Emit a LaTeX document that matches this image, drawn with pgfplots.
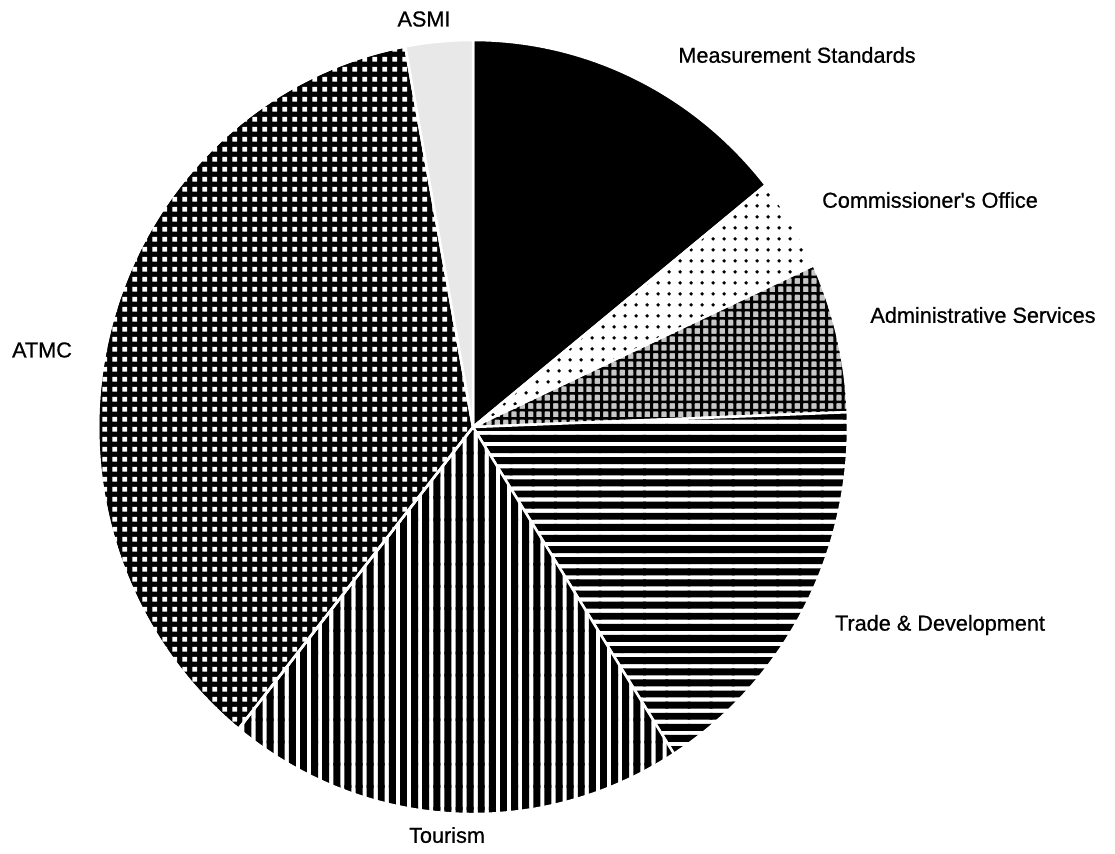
\documentclass[border=0pt]{standalone}
\usepackage{pgfplots}
\pgfplotsset{compat=1.18}
\usepackage{pgfplotstable}
\usetikzlibrary{patterns}
\usepackage{fontspec}
\setmainfont{Liberation Sans}
\newfontfamily\labelfont[FakeBold=0.7]{Liberation Sans}

\pgfdeclarepatternformonly{vthick}{\pgfqpoint{-0.5pt}{-0.5pt}}{\pgfqpoint{8.5pt}{8.5pt}}{\pgfqpoint{8pt}{8pt}}{%
  \pgfpathrectangle{\pgfqpoint{0pt}{-0.5pt}}{\pgfqpoint{2.5pt}{9pt}}%
  \pgfpathrectangle{\pgfqpoint{4pt}{-0.5pt}}{\pgfqpoint{2.5pt}{9pt}}\pgfusepath{fill}}
\pgfdeclarepatternformonly{hthick}{\pgfqpoint{-0.5pt}{-0.5pt}}{\pgfqpoint{8.5pt}{8.5pt}}{\pgfqpoint{8pt}{8pt}}{%
  \pgfpathrectangle{\pgfqpoint{-0.5pt}{0pt}}{\pgfqpoint{9pt}{2.5pt}}%
  \pgfpathrectangle{\pgfqpoint{-0.5pt}{4pt}}{\pgfqpoint{9pt}{2.5pt}}\pgfusepath{fill}}
\pgfdeclarepatternformonly{wsq}{\pgfqpoint{0pt}{0pt}}{\pgfqpoint{3.6pt}{3.6pt}}{\pgfqpoint{3.6pt}{3.6pt}}{%
  \pgfpathrectangle{\pgfqpoint{0.9pt}{0.9pt}}{\pgfqpoint{1.9pt}{1.9pt}}\pgfusepath{fill}}
\pgfdeclarepatternformonly{bdots}{\pgfqpoint{0pt}{0pt}}{\pgfqpoint{4pt}{4pt}}{\pgfqpoint{4pt}{4pt}}{%
  \pgfpathcircle{\pgfqpoint{2pt}{2pt}}{0.75pt}\pgfusepath{fill}}
\pgfdeclarepatternformonly{adgrid}{\pgfqpoint{-0.3pt}{-0.3pt}}{\pgfqpoint{3.3pt}{3.3pt}}{\pgfqpoint{3pt}{3pt}}{%
  \pgfpathrectangle{\pgfqpoint{-0.3pt}{0pt}}{\pgfqpoint{3.6pt}{0.9pt}}%
  \pgfpathrectangle{\pgfqpoint{0pt}{-0.3pt}}{\pgfqpoint{1.1pt}{3.6pt}}\pgfusepath{fill}}

% slice shares in percent, clockwise from 12 o'clock
\pgfplotstableread{
name value
MS 14.25
CO 3.89
AS 6.25
TD 16.61
TO 19.75
ATMC 36.36
ASMI 2.89
}\piedata

\xdef\acc{90}
\xdef\angA{90}
\newcommand\nextangle[2]{%
  \pgfplotstablegetelem{#1}{value}\of\piedata
  \pgfmathsetmacro\tmpang{\acc-3.6*\pgfplotsretval}%
  \xdef#2{\tmpang}\xdef\acc{\tmpang}}
\nextangle{0}{\angB}
\nextangle{1}{\angC}
\nextangle{2}{\angD}
\nextangle{3}{\angE}
\nextangle{4}{\angF}
\nextangle{5}{\angG}
\nextangle{6}{\angH}

\def\cx{473}\def\cy{426}\def\rx{375}\def\ry{387}

\begin{document}
\begin{tikzpicture}
\begin{axis}[
  hide axis, scale only axis,
  width=401.4pt, height=307.1pt,
  xmin=0, xmax=1115, ymin=0, ymax=853,
  clip=false,
  every axis plot/.append style={draw=white, line width=0.9pt, samples=90, variable=\t},
]
\path (rel axis cs:0,0) rectangle (rel axis cs:1,1);
% Measurement Standards
\addplot[fill=black, domain=\angB:\angA] ({\cx+\rx*cos(\t)},{\cy+\ry*sin(\t)}) -- (axis cs:\cx,\cy) -- cycle;
% Commissioner's Office
\addplot[pattern=bdots, pattern color=black, domain=\angC:\angB] ({\cx+\rx*cos(\t)},{\cy+\ry*sin(\t)}) -- (axis cs:\cx,\cy) -- cycle;
% Administrative Services
\addplot[preaction={fill=gray!45}, pattern=adgrid, pattern color=black, domain=\angD:\angC] ({\cx+\rx*cos(\t)},{\cy+\ry*sin(\t)}) -- (axis cs:\cx,\cy) -- cycle;
% Trade & Development
\addplot[pattern=hthick, pattern color=black, domain=\angE:\angD] ({\cx+\rx*cos(\t)},{\cy+\ry*sin(\t)}) -- (axis cs:\cx,\cy) -- cycle;
% Tourism
\addplot[pattern=vthick, pattern color=black, domain=\angF:\angE] ({\cx+\rx*cos(\t)},{\cy+\ry*sin(\t)}) -- (axis cs:\cx,\cy) -- cycle;
% ATMC
\addplot[preaction={fill=black}, pattern=wsq, pattern color=white, domain=\angG:\angF] ({\cx+\rx*cos(\t)},{\cy+\ry*sin(\t)}) -- (axis cs:\cx,\cy) -- cycle;
% ASMI
\addplot[fill=gray!18, domain=\angH:\angG] ({\cx+\rx*cos(\t)},{\cy+\ry*sin(\t)}) -- (axis cs:\cx,\cy) -- cycle;

\begin{scope}[every node/.style={font=\labelfont\fontsize{7.8}{9}\selectfont, inner sep=0pt}]
\node at (axis cs:424,834) {ASMI};
\node at (axis cs:797,798) {Measurement Standards};
\node at (axis cs:930,653) {Commissioner's Office};
\node at (axis cs:983,538) {Administrative Services};
\node at (axis cs:940,228) {Trade \& Development};
\node at (axis cs:447,18) {Tourism};
\node at (axis cs:42,503) {ATMC};
\end{scope}
\end{axis}
\end{tikzpicture}
\end{document}
